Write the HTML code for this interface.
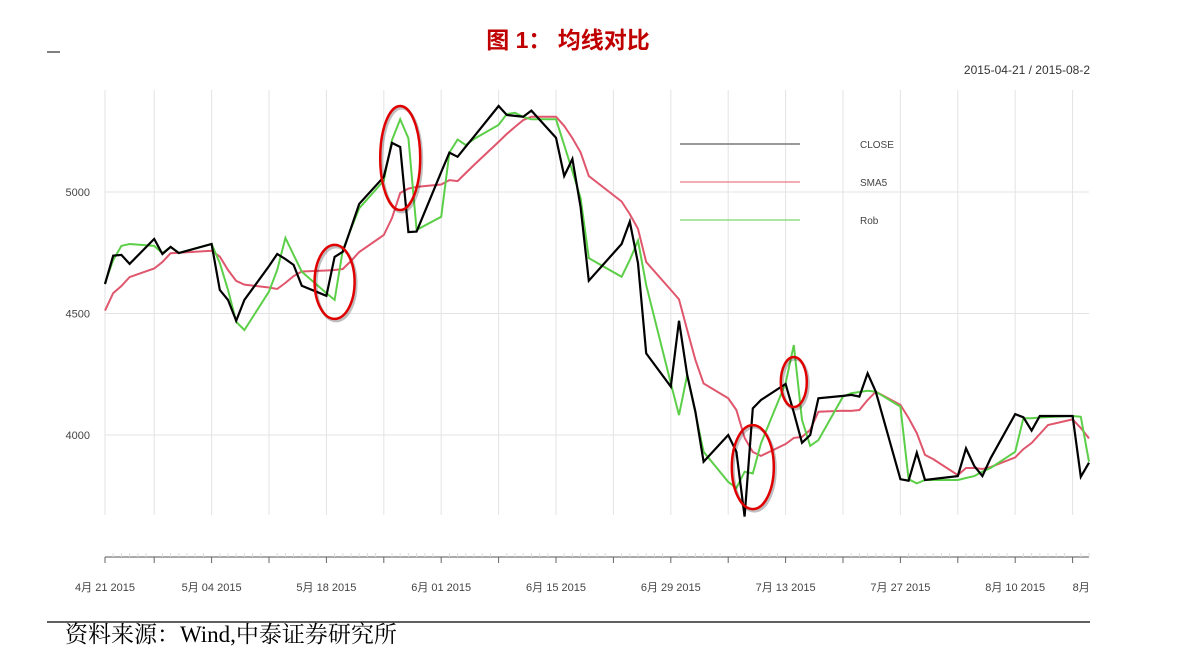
<!DOCTYPE html>
<html><head><meta charset="utf-8">
<style>
html,body{margin:0;padding:0;background:#fff;width:1179px;height:661px;overflow:hidden}
svg{display:block}
</style></head>
<body>
<svg id="chart" width="1179" height="661" xmlns="http://www.w3.org/2000/svg" font-family="Liberation Sans, Noto Sans CJK SC, sans-serif">
<text x="568" y="48" text-anchor="middle" font-size="23" font-weight="bold" fill="#c00000" font-family="Liberation Sans, Noto Sans CJK SC, sans-serif">图 1：  均线对比</text>
<line x1="47" y1="52" x2="60" y2="52" stroke="#000" stroke-width="1"/>
<text x="1090" y="74" text-anchor="end" font-size="12" fill="#333">2015-04-21 / 2015-08-2</text>
<g id="grid"></g>
<g id="yaxis"></g>
<g id="xaxis"></g>
<g id="series"></g>
<g id="legend">
<line x1="680" y1="144" x2="800" y2="144" stroke="#999" stroke-width="2"/>
<text x="860" y="148" font-size="10" fill="#444">CLOSE</text>
<line x1="680" y1="182" x2="800" y2="182" stroke="#ee7a88" stroke-width="1.2"/>
<text x="860" y="186" font-size="10" fill="#444">SMA5</text>
<line x1="680" y1="220" x2="800" y2="220" stroke="#7ad86a" stroke-width="1.2"/>
<text x="860" y="224" font-size="10" fill="#444">Rob</text>
</g>
<g id="annotations"></g>
<line x1="47" y1="622" x2="1090" y2="622" stroke="#000" stroke-width="1.2"/>
<text x="65" y="642" font-size="23" fill="#000" font-family="Liberation Serif, Noto Serif CJK SC, serif">资料来源：Wind,中泰证券研究所</text>
</svg>
<script>
const dates = ["04-21","04-22","04-23","04-24","04-27","04-28","04-29","04-30","05-04","05-05","05-06","05-07","05-08","05-11","05-12","05-13","05-14","05-15","05-18","05-19","05-20","05-21","05-22","05-25","05-26","05-27","05-28","05-29","06-01","06-02","06-03","06-04","06-05","06-08","06-09","06-10","06-11","06-12","06-15","06-16","06-17","06-18","06-19","06-23","06-24","06-25","06-26","06-29","06-30","07-01","07-02","07-03","07-06","07-07","07-08","07-09","07-10","07-13","07-14","07-15","07-16","07-17","07-20","07-21","07-22","07-23","07-24","07-27","07-28","07-29","07-30","07-31","08-03","08-04","08-05","08-06","08-07","08-10","08-11","08-12","08-13","08-14","08-17","08-18","08-19"];
const closeVals = [4621,4738,4741,4704,4807,4745,4774,4749,4786,4597,4556,4470,4556,4695,4745,4724,4700,4614,4573,4733,4754,4852,4951,5062,5202,5185,4835,4837,5082,5162,5145,5187,5228,5354,5317,5313,5310,5335,5223,5066,5136,4938,4635,4786,4878,4707,4336,4199,4470,4247,4096,3890,4000,3931,3664,4110,4144,4210,4093,3968,4000,4151,4161,4165,4158,4254,4178,3818,3812,3927,3815,3819,3831,3945,3873,3831,3904,4086,4073,4018,4078,4078,4078,3828,3886];
const smaVals = [4512,4584,4613,4650,4685,4712,4748,4750,4758,4734,4679,4634,4619,4607,4601,4626,4654,4673,4677,4679,4683,4716,4753,4823,4893,4996,5014,5021,5031,5049,5045,5078,5111,5206,5239,5268,5296,5310,5310,5272,5222,5163,5066,4961,4909,4848,4712,4597,4558,4432,4309,4212,4151,4103,3988,3930,3914,3963,3988,3992,4021,4096,4100,4099,4103,4144,4178,4124,4070,4008,3918,3901,3835,3864,3864,3860,3868,3908,3942,3967,4004,4041,4064,4029,3986];
const robVals = [4626,4720,4778,4786,4778,4748,4774,4749,4786,4708,4597,4466,4432,4590,4679,4811,4741,4672,4584,4556,4761,4848,4933,5047,5214,5299,5221,4844,4898,5162,5216,5193,5218,5276,5321,5326,5309,5299,5299,5193,5086,4975,4728,4651,4720,4800,4617,4213,4082,4247,4091,3931,3807,3782,3849,3842,3966,4213,4370,4062,3955,3979,4158,4172,4177,4182,4178,4117,3818,3801,3815,3815,3815,3823,3831,3849,3864,3931,4069,4069,4072,4074,4078,4075,3890];
const yTicks = [4000,4500,5000];
const xLabelDates = ["04-21","05-04","05-18","06-01","06-15","06-29","07-13","07-27","08-10"];
const xLabelText = ["4月 21 2015","5月 04 2015","5月 18 2015","6月 01 2015","6月 15 2015","6月 29 2015","7月 13 2015","7月 27 2015","8月 10 2015"];
const markedDates = ["05-27","05-19","07-09","07-14"];
const markedValues = [5140,4630,3868,4218];

const NS="http://www.w3.org/2000/svg";
const X0=105, X1=1089, PXD=8.2;
function dayOff(s){const [m,d]=s.split("-").map(Number);return (Date.UTC(2015,m-1,d)-Date.UTC(2015,3,21))/86400000;}
function xs(s){return X0+dayOff(s)*PXD;}
function ys(v){return 192+(5000-v)*0.243;}
function mk(tag,attrs,parent){const e=document.createElementNS(NS,tag);for(const k in attrs)e.setAttribute(k,attrs[k]);parent.appendChild(e);return e;}

const grid=document.getElementById('grid');
for(let d=0; d<=120; d++){
  const x=X0+d*PXD; const dt=new Date(Date.UTC(2015,3,21+d));
  if(dt.getUTCDay()===1 || d===0){
    const l=mk('line',{x1:x,y1:90,x2:x,y2:515,stroke:'#e3e3e3','stroke-width':1},grid);
    
    
  }
}
const ya=document.getElementById('yaxis');
yTicks.forEach(v=>{
  const l=mk('line',{x1:X0,y1:ys(v),x2:X1,y2:ys(v),stroke:'#e3e3e3','stroke-width':1},grid);
  
  
  const t=mk('text',{x:90,y:ys(v)+4,'text-anchor':'end','font-size':11,fill:'#444'},ya);
  t.textContent=v;
  
  
});
const xa=document.getElementById('xaxis');
const ax=mk('line',{x1:X0,y1:557,x2:X1,y2:557,stroke:'#777','stroke-width':1.2},xa);


for(let d=0; d<=120; d++){
  const x=X0+d*PXD; const dt=new Date(Date.UTC(2015,3,21+d));
  const major=(dt.getUTCDay()===1||d===0);
  const tk=mk('line',{x1:x,y1:major?557:553,x2:x,y2:major?563:557,stroke:major?'#666':'#ddd','stroke-width':1},xa);
  
  
}
xLabelDates.forEach((s,i)=>{
  const t=mk('text',{x:xs(s),y:591,'text-anchor':'middle','font-size':11,fill:'#444'},xa);
  t.textContent=xLabelText[i];
  
  
});
const cp=mk('clipPath',{id:'clipR'},document.getElementById('chart'));
mk('rect',{x:0,y:0,width:X1+1,height:661},cp);
const cut=mk('text',{x:xs("08-17"),y:591,'font-size':11,fill:'#444','clip-path':'url(#clipR)'},xa);
cut.textContent="8月 17 2015";



const sg=document.getElementById('series');
function line(vals,color,w,name){
  const p=mk('polyline',{points:vals.map((v,i)=>xs(dates[i]).toFixed(1)+','+ys(v).toFixed(1)).join(' '),fill:'none',stroke:color,'stroke-width':w,'stroke-linejoin':'miter'},sg);
  
  
}
line(smaVals,'#e0566c',2,'sma5-line');
line(robVals,'#5ccf48',2,'rob-line');
line(closeVals,'#000',2.2,'close-line');

const an=document.getElementById('annotations');
const ells=[[20,52],[20,37],[21,42],[13,25]];
markedDates.forEach((s,i)=>{
  const cx=xs(s), cy=ys(markedValues[i]);
  const sh=mk('ellipse',{cx:cx+1.5,cy:cy+2,rx:ells[i][0],ry:ells[i][1],fill:'none',stroke:'rgba(0,0,0,0.25)','stroke-width':3},an);
  
  
  const e=mk('ellipse',{cx:cx,cy:cy,rx:ells[i][0],ry:ells[i][1],fill:'none',stroke:'#e00000','stroke-width':2.5},an);
  
  
});
</script>
</body></html>
